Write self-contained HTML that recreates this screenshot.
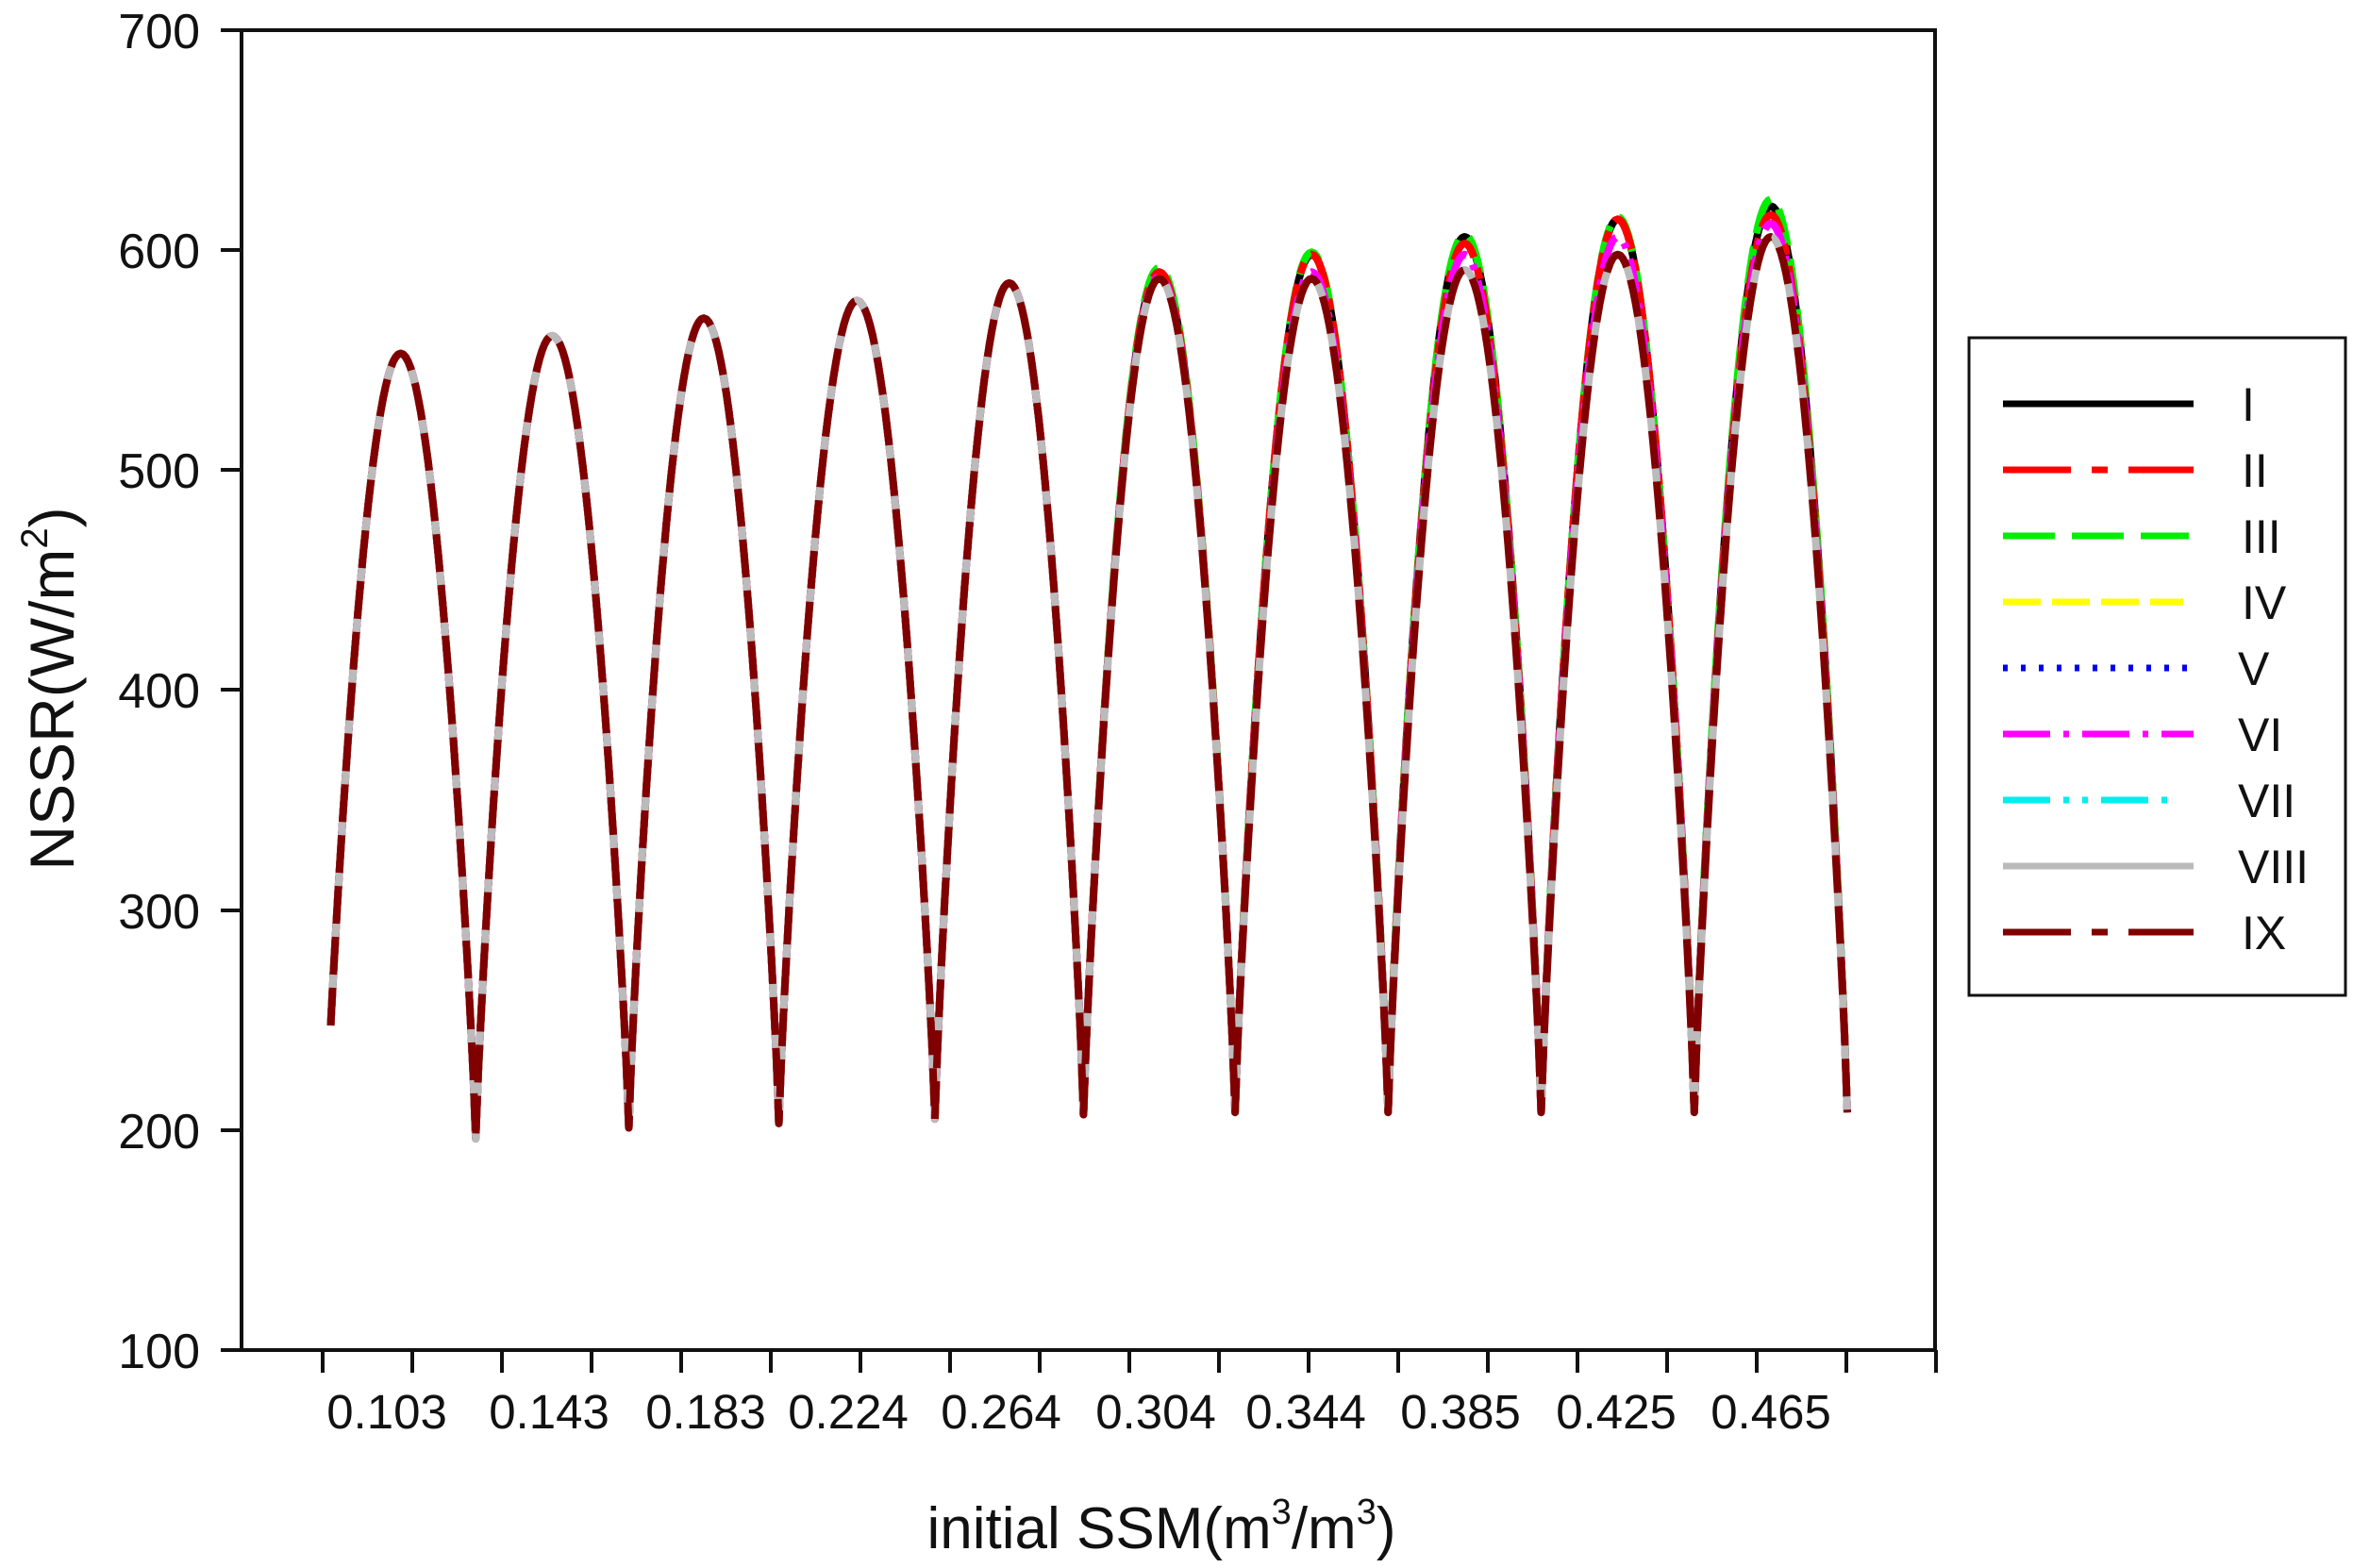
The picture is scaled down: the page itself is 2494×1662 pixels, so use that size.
<!DOCTYPE html>
<html><head><meta charset="utf-8"><style>
html,body{margin:0;padding:0;background:#fff;}
svg{display:block;}
text{font-family:"Liberation Sans",Arial,sans-serif;fill:#111;}
</style></head><body>
<svg id="s" width="2494" height="1662" viewBox="0 0 2494 1662" xmlns="http://www.w3.org/2000/svg">
<rect width="2494" height="1662" fill="#fff"/>
<g id="curves" fill="none" stroke-linejoin="round" stroke-linecap="butt"></g>
<rect x="256" y="32" width="1795" height="1399" fill="none" stroke="#111" stroke-width="4"/>
<g id="ticks" stroke="#111" stroke-width="4"></g>
<g font-size="52" text-anchor="end">
<text x="212" y="51">700</text>
<text x="212" y="284">600</text>
<text x="212" y="517">500</text>
<text x="212" y="750">400</text>
<text x="212" y="984">300</text>
<text x="212" y="1217">200</text>
<text x="212" y="1450">100</text>
</g>
<g font-size="51" text-anchor="middle">
<text x="410" y="1514">0.103</text>
<text x="582" y="1514">0.143</text>
<text x="748" y="1514">0.183</text>
<text x="899" y="1514">0.224</text>
<text x="1061" y="1514">0.264</text>
<text x="1225" y="1514">0.304</text>
<text x="1384" y="1514">0.344</text>
<text x="1548" y="1514">0.385</text>
<text x="1713" y="1514">0.425</text>
<text x="1877" y="1514">0.465</text>
</g>
<text x="1231" y="1641" font-size="62" text-anchor="middle">initial SSM(m<tspan font-size="38" dy="-26">3</tspan><tspan dy="26">/m</tspan><tspan font-size="38" dy="-26">3</tspan><tspan dy="26">)</tspan></text>
<text transform="translate(78,730) rotate(-90)" font-size="66" text-anchor="middle">NSSR(W/m<tspan font-size="40" dy="-28">2</tspan><tspan dy="28">)</tspan></text>
<rect x="2087" y="358" width="399" height="697" fill="#fff" stroke="#111" stroke-width="3"/>
<g stroke-width="7" fill="none">
<line x1="2123" y1="428" x2="2325" y2="428" stroke="#000"/>
<line x1="2123" y1="498" x2="2325" y2="498" stroke="#f00" stroke-dasharray="72 22 17 22"/>
<line x1="2123" y1="568" x2="2320" y2="568" stroke="#0e0" stroke-dasharray="55 18"/>
<line x1="2123" y1="638" x2="2314" y2="638" stroke="#ff0" stroke-dasharray="40 12"/>
<line x1="2123" y1="708" x2="2318" y2="708" stroke="#00e" stroke-dasharray="5 14"/>
<line x1="2123" y1="778" x2="2325" y2="778" stroke="#f0f" stroke-dasharray="50 14 6 14"/>
<line x1="2123" y1="848" x2="2310" y2="848" stroke="#0ee" stroke-dasharray="50 14 6 14 6 14"/>
<line x1="2123" y1="918" x2="2325" y2="918" stroke="#bbb"/>
<line x1="2123" y1="988" x2="2325" y2="988" stroke="#800000" stroke-dasharray="72 22 17 22"/>
</g>
<g font-size="50">
<text x="2376" y="446">I</text>
<text x="2376" y="516">II</text>
<text x="2376" y="586">III</text>
<text x="2376" y="656">IV</text>
<text x="2372" y="726">V</text>
<text x="2372" y="796">VI</text>
<text x="2372" y="866">VII</text>
<text x="2372" y="936">VIII</text>
<text x="2376" y="1006">IX</text>
</g>
</svg>
<script>
(function(){
var NS="http://www.w3.org/2000/svg";
var tk=document.getElementById('ticks');
for(var k=0;k<=18;k++){var x=342+95*k;if(x>2052)break;var l=document.createElementNS(NS,'line');
l.setAttribute('x1',x);l.setAttribute('x2',x);l.setAttribute('y1',1431);l.setAttribute('y2',1455);tk.appendChild(l);}
var yt=[32,265,498,731,965,1198,1431];
yt.forEach(function(y){var l=document.createElementNS(NS,'line');l.setAttribute('x1',234);l.setAttribute('x2',256);l.setAttribute('y1',y);l.setAttribute('y2',y);tk.appendChild(l);});
var S=1.5906;
var tx=[217,317,419,519,623,722,823,925,1027,1129,1231].map(function(v){return v*S;});
var tv=[195,196,201,203,205,207,208,208,208,208,208];
function Y(v){return 1431-(v-100)*2.332;}
function path(peaks){
 var d="",x0=220*S,first=true;
 for(var i=0;i<10;i++){
  var a=tx[i],b=tx[i+1];
  for(var j=0;j<=60;j++){
   var t=j/60,x=a+(b-a)*t; if(x<x0)continue;
   var base=tv[i]*(1-t)+tv[i+1]*t;
   var v=base+(peaks[i]-base)*Math.pow(Math.sin(Math.PI*t),0.85);
   d+=(first?"M":"L")+x.toFixed(1)+","+Y(v).toFixed(1);first=false;
  }
 }
 return d;
}
var series=[
 {c:"#000",p:[553,561,569,577,585,590,598,606,614,620],da:""},
 {c:"#0e0",p:[553,561,569,577,585,592,599,607,615,623],da:"40 14"},
 {c:"#f00",p:[553,561,569,577,585,590,598,603,614,616],da:"40 12 12 12"},
 {c:"#f0f",p:[553,561,569,577,585,588,590,598,606,612],da:"36 12 6 12"},
 {c:"#bbb",p:[553,561,569,577,585,587,587,591,598,606],da:""},
 {c:"#800000",p:[553,561,569,577,585,587,587,591,598,606],da:"40 14"}
];
var g=document.getElementById('curves');
series.forEach(function(s){var p=document.createElementNS(NS,'path');p.setAttribute('d',path(s.p));
p.setAttribute('stroke',s.c);p.setAttribute('stroke-width',8);if(s.da)p.setAttribute('stroke-dasharray',s.da);g.appendChild(p);});
})();
</script>
</body></html>
